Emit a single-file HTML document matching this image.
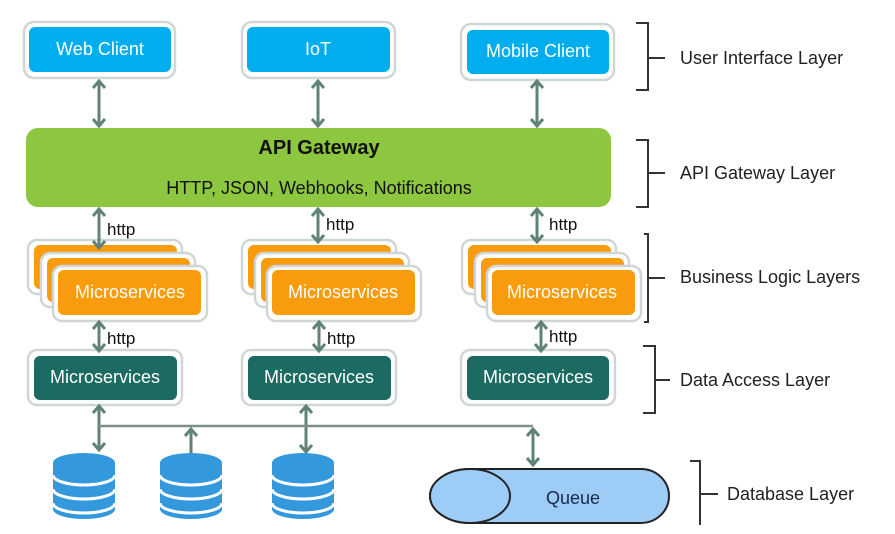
<!DOCTYPE html>
<html><head><meta charset="utf-8"><style>
html,body{margin:0;padding:0;background:#fff;}
svg{display:block;font-family:"Liberation Sans",Arial,sans-serif;}
</style></head><body>
<svg width="895" height="534" viewBox="0 0 895 534" xmlns="http://www.w3.org/2000/svg">
<defs>
<g id="db">
  <path d="M0,11 L0,57 A31,10 0 0 0 62,57 L62,11 Z" fill="#3499dc"/>
  <ellipse cx="31" cy="11" rx="31" ry="10" fill="#3499dc"/>
  <path d="M0,23 A31,10 0 0 0 62,23" fill="none" stroke="#fff" stroke-width="3"/>
  <path d="M0,37 A31,10 0 0 0 62,37" fill="none" stroke="#fff" stroke-width="3"/>
  <path d="M0,51 A31,10 0 0 0 62,51" fill="none" stroke="#fff" stroke-width="3"/>
</g>
</defs>
<g stroke="#cfd6d8" stroke-width="2.5">
<rect x="24" y="22" width="151" height="56" rx="10" fill="#fff"/>
<rect x="242" y="22" width="153" height="56" rx="10" fill="#fff"/>
<rect x="461" y="24" width="153" height="56" rx="10" fill="#fff"/>
</g>
<rect x="29" y="27" width="142" height="45" rx="6" fill="#00aeef"/>
<rect x="247" y="27" width="143" height="45" rx="6" fill="#00aeef"/>
<rect x="467" y="30" width="142" height="44" rx="6" fill="#00aeef"/>
<g fill="#fff" font-size="18" text-anchor="middle">
<text x="100" y="55">Web Client</text>
<text x="318" y="55">IoT</text>
<text x="538" y="57">Mobile Client</text>
</g>
<rect x="26" y="128" width="585" height="79" rx="12" fill="#8dc63f"/>
<text x="319" y="154" font-size="20" font-weight="bold" text-anchor="middle" fill="#111">API Gateway</text>
<text x="319" y="194" font-size="18" text-anchor="middle" fill="#111">HTTP, JSON, Webhooks, Notifications</text>

<g stroke="#cfd6d8" stroke-width="2.5">
<g id="st">
<rect x="28" y="240" width="154" height="54" rx="9" fill="#fff"/>
<rect x="34" y="245" width="143" height="44" rx="6" fill="#f89c0e" stroke="none"/>
<rect x="41" y="253" width="154" height="54" rx="9" fill="#fff"/>
<rect x="47" y="258" width="143" height="44" rx="6" fill="#f89c0e" stroke="none"/>
<rect x="53" y="266" width="154" height="55" rx="9" fill="#fff"/>
<rect x="58" y="270" width="143" height="45" rx="6" fill="#f89c0e" stroke="none"/>
</g>
<use href="#st" x="214"/>
<use href="#st" x="434"/>
<rect x="28" y="350" width="154" height="55" rx="9" fill="#fff"/>
<rect x="242" y="350" width="154" height="55" rx="9" fill="#fff"/>
<rect x="461" y="350" width="154" height="55" rx="9" fill="#fff"/>
</g>
<rect x="34" y="356" width="143" height="44" rx="6" fill="#1b6b62"/>
<rect x="248" y="356" width="143" height="44" rx="6" fill="#1b6b62"/>
<rect x="467" y="356" width="142" height="44" rx="6" fill="#1b6b62"/>
<g fill="#fff" font-size="18" text-anchor="middle">
<text x="130" y="298">Microservices</text>
<text x="343" y="298">Microservices</text>
<text x="562" y="298">Microservices</text>
<text x="105" y="383">Microservices</text>
<text x="319" y="383">Microservices</text>
<text x="538" y="383">Microservices</text>
</g>

<g stroke="#5f8279" stroke-width="3" fill="none">
<path d="M99,81V126M93,88L99,81L105,88M93,119L99,126L105,119"/>
<path d="M318,81V126M312,88L318,81L324,88M312,119L318,126L324,119"/>
<path d="M537,81V126M531,88L537,81L543,88M531,119L537,126L543,119"/>
<path d="M99,209V248M93,216L99,209L105,216M93,241L99,248L105,241"/>
<path d="M318,209V242M312,216L318,209L324,216M312,235L318,242L324,235"/>
<path d="M537,209V242M531,216L537,209L543,216M531,235L537,242L543,235"/>
<path d="M99,322V351M93,329L99,322L105,329M93,344L99,351L105,344"/>
<path d="M319,322V351M313,329L319,322L325,329M313,344L319,351L325,344"/>
<path d="M541,322V351M535,329L541,322L547,329M535,344L541,351L547,344"/>
<path d="M99,406V450M93,413L99,406L105,413M93,443L99,450L105,443"/>
<path d="M306,406V452M300,413L306,406L312,413M300,445L306,452L312,445"/>
<path d="M191,429V467M185,436L191,429L197,436M185,460L191,467L197,460"/>
<path d="M533,429V465M527,436L533,429L539,436M527,458L533,465L539,458"/>
</g>
<path d="M99,426H533" stroke="#7d8f8b" stroke-width="2.5" fill="none"/>
<g fill="#111" font-size="17">
<text x="107" y="235">http</text>
<text x="326" y="230">http</text>
<text x="549" y="230">http</text>
<text x="107" y="344">http</text>
<text x="327" y="344">http</text>
<text x="549" y="342">http</text>
</g>

<use href="#db" x="53" y="452"/>
<use href="#db" x="160" y="452"/>
<use href="#db" x="272" y="452"/>

<path d="M470,469 H641 A28,27 0 0 1 641,523 H470 A40,27 0 0 1 470,469 Z" fill="#9dccf7" stroke="#222" stroke-width="2"/>
<ellipse cx="470" cy="496" rx="40" ry="27" fill="#9dccf7" stroke="#222" stroke-width="2"/>
<text x="573" y="504" font-size="18" text-anchor="middle" fill="#1a2b4a">Queue</text>

<g stroke="#333" stroke-width="2" fill="none">
<path d="M636,23H648V90H636M648,58H665"/>
<path d="M636,140H648V207H636M648,173H665"/>
<path d="M644,234H648V322H644M648,278H665"/>
<path d="M643,346H655V413H643M655,380H670"/>
<path d="M690,461H700V525M700,494H718"/>
</g>
<g fill="#222" font-size="18">
<text x="680" y="64">User Interface Layer</text>
<text x="680" y="179">API Gateway Layer</text>
<text x="680" y="283">Business Logic Layers</text>
<text x="680" y="386">Data Access Layer</text>
<text x="727" y="500">Database Layer</text>
</g>
</svg>
</body></html>
